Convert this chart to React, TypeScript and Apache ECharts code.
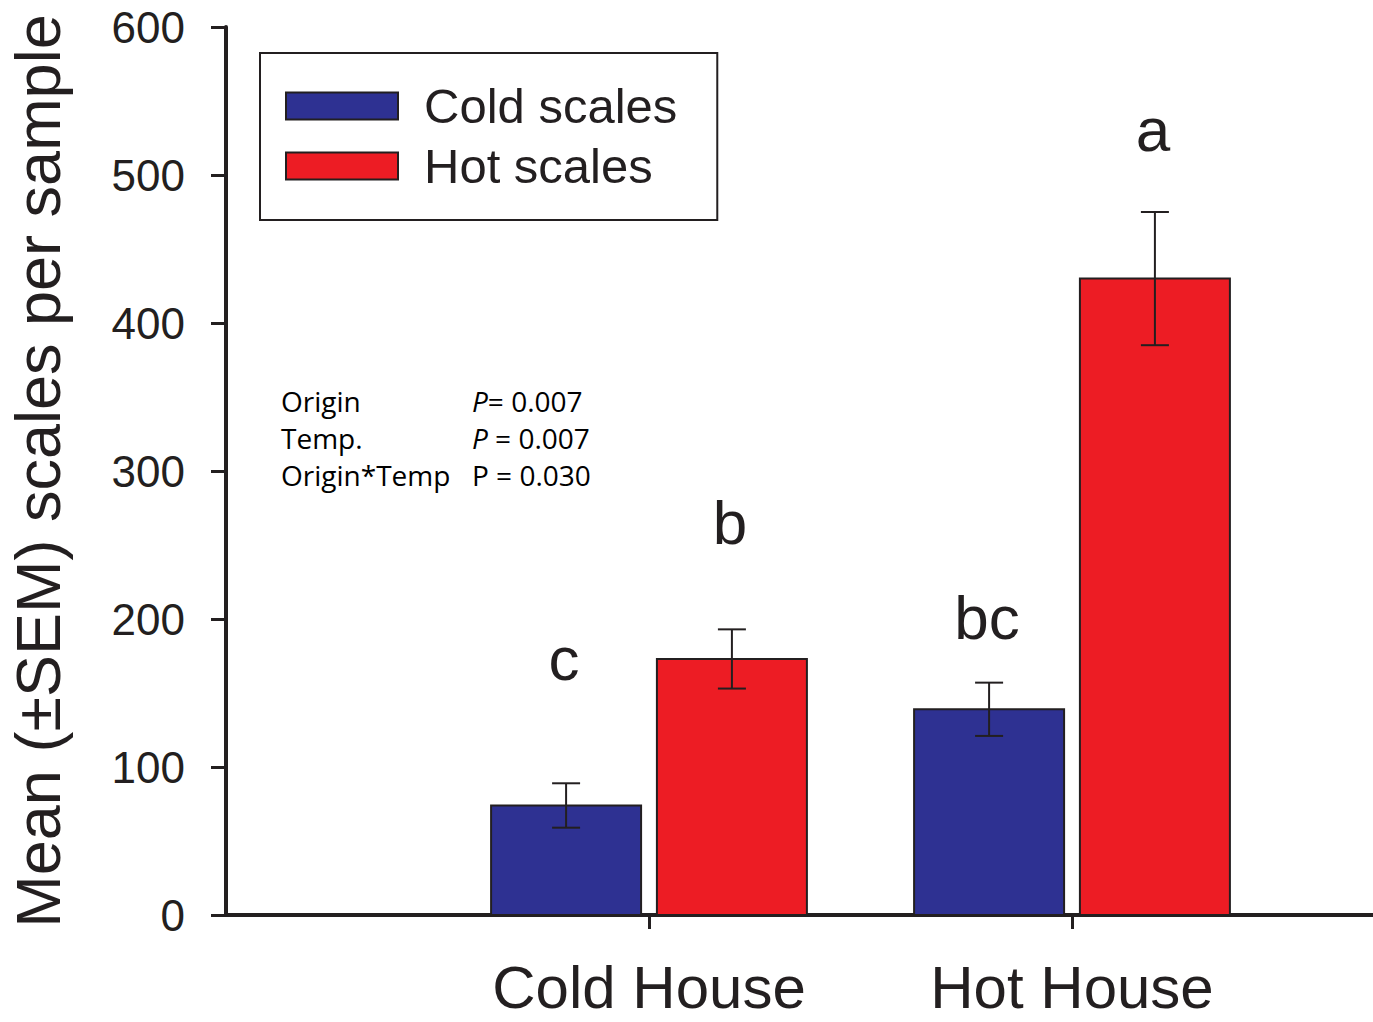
import React, { useEffect, useRef } from "react";
import * as echarts from "echarts";

// ---- data ----
const categories = ["Cold House", "Hot House"];
const seriesNames = ["Cold scales", "Hot scales"];
const coldScalesMean = [74, 139];
const coldScalesSem = [15, 18];
const hotScalesMean = [173, 430];
const hotScalesSem = [20, 45];
const coldLetters = ["c", "bc"];
const coldLetterValue = [173, 201];
const hotLetters = ["b", "a"];
const hotLetterValue = [265, 531];
const yMin = 0;
const yMax = 600;
const yInterval = 100;
const yTitle = "Mean (\u00B1SEM) scales per sample";
const statLabels = ["Origin", "Temp.", "Origin*Temp"];
const statValues = ["= 0.007", " = 0.007", " = 0.030"];
const statItalicP = [true, true, false];

// ---- styles ----
const BLUE = "#2e3192";
const RED = "#ed1c24";
const INK = "#231f20";
const FONT = "Liberation Sans, Arial, sans-serif";
const STAT_FONT = "Open Sans, sans-serif";
const STAT_SIZE = 28;
const OFFSET = 0.196; // bar centre offset from category position (axis units)
const HALF = 0.1773; // half bar width (axis units)
const CAP = 14; // error bar cap half width px
const X_MAX = 1147 / 423;

function barSeries(name: string, means: number[], color: string, offset: number) {
  return {
    type: "custom",
    name,
    coordinateSystem: "cartesian2d",
    itemStyle: { color },
    encode: { x: 0, y: 1 },
    z: 2,
    data: means.map((m, i) => [i + 1 + offset, m]),
    renderItem: (params: any, api: any) => {
      const x = api.value(0);
      const y = api.value(1);
      const tl = api.coord([x - HALF, y]);
      const br = api.coord([x + HALF, 0]);
      return {
        type: "rect",
        shape: { x: tl[0], y: tl[1], width: br[0] - tl[0], height: br[1] - tl[1] },
        style: { fill: color, stroke: INK, lineWidth: 2 },
      };
    },
  };
}

function errSeries(name: string, means: number[], sems: number[], offset: number) {
  return {
    type: "custom",
    name,
    coordinateSystem: "cartesian2d",
    encode: { x: 0, y: [1, 2] },
    z: 3,
    data: means.map((m, i) => [i + 1 + offset, m + sems[i], m - sems[i]]),
    renderItem: (params: any, api: any) => {
      const x = api.value(0);
      const hi = api.coord([x, api.value(1)]);
      const lo = api.coord([x, api.value(2)]);
      const st = { stroke: INK, lineWidth: 2 };
      return {
        type: "group",
        children: [
          { type: "line", shape: { x1: hi[0], y1: hi[1], x2: lo[0], y2: lo[1] }, style: st },
          { type: "line", shape: { x1: hi[0] - CAP, y1: hi[1], x2: hi[0] + CAP, y2: hi[1] }, style: st },
          { type: "line", shape: { x1: lo[0] - CAP, y1: lo[1], x2: lo[0] + CAP, y2: lo[1] }, style: st },
        ],
      };
    },
  };
}

function letterSeries(name: string, letters: string[], values: number[], offset: number) {
  return {
    type: "custom",
    name,
    coordinateSystem: "cartesian2d",
    encode: { x: 0, y: 1 },
    z: 4,
    data: values.map((v, i) => [i + 1 + offset, v]),
    renderItem: (params: any, api: any) => {
      const p = api.coord([api.value(0), api.value(1)]);
      return {
        type: "text",
        x: p[0] - 2,
        y: p[1],
        style: {
          text: letters[params.dataIndex],
          fontSize: 62,
          fontFamily: FONT,
          fill: INK,
          align: "center",
          verticalAlign: "middle",
        },
      };
    },
  };
}

export default function App() {
  const ref = useRef<HTMLDivElement>(null);
  useEffect(() => {
    if (!ref.current) return;
    const chart = echarts.init(ref.current, undefined, { renderer: "svg" });
    const statGraphics: any[] = [];
    statLabels.forEach((lab, i) => {
      const y = 401 + i * 37;
      statGraphics.push({
        type: "text",
        x: 281,
        y,
        style: {
          text: lab,
          fontSize: STAT_SIZE,
          fontFamily: STAT_FONT,
          fill: "#000",
          verticalAlign: "middle",
        },
      });
      statGraphics.push({
        type: "text",
        x: 472,
        y,
        style: {
          text: `{${statItalicP[i] ? "i" : "n"}|P}{n|${statValues[i]}}`,
          fontSize: STAT_SIZE,
          fontFamily: STAT_FONT,
          fill: "#000",
          verticalAlign: "middle",
          rich: {
            i: { fontStyle: "italic", fontSize: STAT_SIZE, fontFamily: STAT_FONT, fill: "#000" },
            n: { fontSize: STAT_SIZE, fontFamily: STAT_FONT, fill: "#000" },
          },
        },
      });
    });

    chart.setOption({
      animation: false,
      backgroundColor: "#fff",
      grid: { left: 226, right: 0, top: 27, bottom: 107, outerBoundsMode: "none" },
      legend: {
        data: seriesNames,
        orient: "vertical",
        left: 260,
        top: 53,
        padding: [28, 40, 29, 25],
        itemGap: 10,
        itemWidth: 112,
        itemHeight: 27,
        icon: "rect",
        borderColor: INK,
        borderWidth: 2,
        itemStyle: { borderColor: INK, borderWidth: 2 },
        textStyle: {
          fontSize: 49,
          fontFamily: FONT,
          color: INK,
          lineHeight: 50,
          padding: [0, 0, 0, 21],
        },
        selectedMode: false,
      },
      xAxis: {
        type: "value",
        min: 0,
        max: X_MAX,
        splitLine: { show: false },
        axisLine: { show: true, lineStyle: { color: INK, width: 4 } },
        axisTick: {
          show: true,
          customValues: [1, 2],
          length: 14,
          lineStyle: { color: INK, width: 3 },
        },
        axisLabel: {
          customValues: [1, 2],
          formatter: (v: number) => categories[Math.round(v) - 1] ?? "",
          fontSize: 60,
          lineHeight: 50,
          fontFamily: FONT,
          color: INK,
          margin: 47,
        },
      },
      yAxis: {
        type: "value",
        min: yMin,
        max: yMax,
        interval: yInterval,
        splitLine: { show: false },
        axisLine: { show: true, lineStyle: { color: INK, width: 4 } },
        axisTick: { show: true, length: 15, lineStyle: { color: INK, width: 3 } },
        axisLabel: { fontSize: 44, fontFamily: FONT, color: INK, margin: 41 },
        name: yTitle,
        nameLocation: "middle",
        nameRotate: 90,
        nameGap: 157,
        nameTextStyle: { fontSize: 63, fontFamily: FONT, color: INK, lineHeight: 63 },
      },
      series: [
        barSeries(seriesNames[0], coldScalesMean, BLUE, -OFFSET),
        barSeries(seriesNames[1], hotScalesMean, RED, OFFSET),
        errSeries("Cold SEM", coldScalesMean, coldScalesSem, -OFFSET),
        errSeries("Hot SEM", hotScalesMean, hotScalesSem, OFFSET),
        letterSeries("Cold letters", coldLetters, coldLetterValue, -OFFSET),
        letterSeries("Hot letters", hotLetters, hotLetterValue, OFFSET),
      ],
      graphic: statGraphics,
    });
    return () => chart.dispose();
  }, []);
  return (
    <div
      ref={ref}
      style={{ position: "absolute", left: 0, top: 0, width: 1373, height: 1022, background: "#fff" }}
    />
  );
}
